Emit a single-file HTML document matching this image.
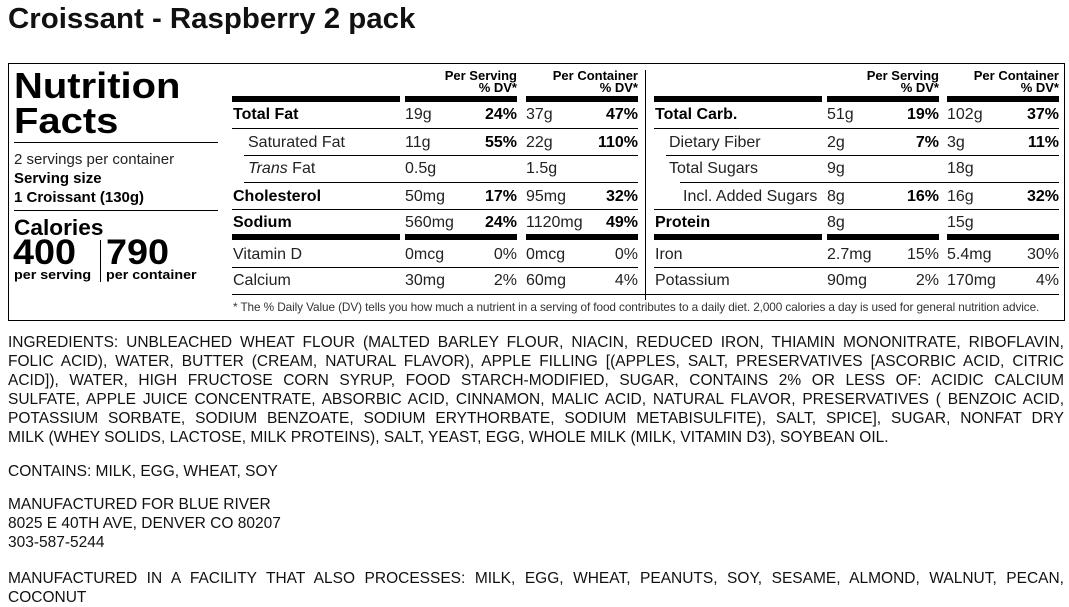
<!DOCTYPE html>
<html><head><meta charset="utf-8"><style>
*{margin:0;padding:0;box-sizing:border-box}
body{width:1069px;height:606px;background:#fff;position:relative;overflow:hidden;font-family:"Liberation Sans",Arial,sans-serif;color:#000}
.a{position:absolute;white-space:nowrap}
.t{font-size:16px;line-height:18px;color:#222;margin-top:1px}
.b{font-weight:bold;color:#000}
.r{text-align:right}
.bar{position:absolute;background:#000;height:6px}
.ln{position:absolute;background:#000;height:1px}
.hd{position:absolute;font-size:13px;line-height:12px;font-weight:bold;text-align:right}
.ing{position:absolute;left:8px;width:1056px;font-size:15.5px;line-height:19px;color:#111;white-space:nowrap}
.j{text-align:justify;text-align-last:justify}
.w{transform-origin:0 0}
</style></head><body>
<div class="a w" style="left:8px;top:2px;font-size:29px;font-weight:bold;color:#111;line-height:34px;transform:scaleX(1.015)">Croissant - Raspberry 2 pack</div>

<div style="position:absolute;left:8px;top:63px;width:1057px;height:258px;border:1.5px solid #000"></div>

<div class="a w" style="left:14px;top:68px;font-size:36px;line-height:36px;font-weight:900;transform:scaleX(1.11)">Nutrition</div>
<div class="a w" style="left:14px;top:103px;font-size:36px;line-height:36px;font-weight:900;transform:scaleX(1.11)">Facts</div>
<div class="ln" style="left:14px;top:142px;width:204px"></div>
<div class="a" style="left:14px;top:151px;font-size:15px;color:#222">2 servings per container</div>
<div class="a b" style="left:14px;top:170px;font-size:15px">Serving size</div>
<div class="a b" style="left:14px;top:189px;font-size:15px">1 Croissant (130g)</div>
<div class="ln" style="left:14px;top:210px;width:204px"></div>
<div class="a b w" style="left:14px;top:215px;font-size:22px;transform:scaleX(1.03)">Calories</div>
<div class="a b w" style="left:13px;top:235px;font-size:35px;line-height:36px;transform:scaleX(1.08)">400</div>
<div class="a b w" style="left:106px;top:235px;font-size:35px;line-height:36px;transform:scaleX(1.08)">790</div>
<div class="ln" style="left:100px;top:240px;width:1px;height:42px"></div>
<div class="a b w" style="left:14px;top:267px;font-size:13px;transform:scaleX(1.1)">per serving</div>
<div class="a b w" style="left:106px;top:267px;font-size:13px;transform:scaleX(1.1)">per container</div>

<div class="hd" style="left:405px;top:70px;width:112px">Per Serving<br>% DV*</div>
<div class="hd" style="left:526px;top:70px;width:112px">Per Container<br>% DV*</div>
<div class="hd" style="left:827px;top:70px;width:112px">Per Serving<br>% DV*</div>
<div class="hd" style="left:947px;top:70px;width:112px">Per Container<br>% DV*</div>
<div class="ln" style="left:645px;top:70px;width:1px;height:230px"></div>

<div class="bar" style="left:232px;top:96px;width:168px"></div>
<div class="bar" style="left:405px;top:96px;width:112px"></div>
<div class="bar" style="left:526px;top:96px;width:112px"></div>
<div class="bar" style="left:654px;top:96px;width:168px"></div>
<div class="bar" style="left:827px;top:96px;width:112px"></div>
<div class="bar" style="left:947px;top:96px;width:112px"></div>
<div class="bar" style="left:232px;top:234px;width:168px"></div>
<div class="bar" style="left:405px;top:234px;width:112px"></div>
<div class="bar" style="left:526px;top:234px;width:112px"></div>
<div class="bar" style="left:654px;top:234px;width:168px"></div>
<div class="bar" style="left:827px;top:234px;width:112px"></div>
<div class="bar" style="left:947px;top:234px;width:112px"></div>

<div class="ln" style="left:232px;top:128px;width:406px"></div>
<div class="ln" style="left:244px;top:155px;width:394px"></div>
<div class="ln" style="left:244px;top:182px;width:394px"></div>
<div class="ln" style="left:232px;top:209px;width:406px"></div>
<div class="ln" style="left:232px;top:267px;width:406px"></div>
<div class="ln" style="left:654px;top:128px;width:405px"></div>
<div class="ln" style="left:666px;top:155px;width:393px"></div>
<div class="ln" style="left:680px;top:182px;width:379px"></div>
<div class="ln" style="left:654px;top:209px;width:405px"></div>
<div class="ln" style="left:654px;top:267px;width:405px"></div>
<div class="ln" style="left:232px;top:294px;width:827px"></div>

<div class="a t b" style="left:233px;top:105px">Total Fat</div>
<div class="a t" style="left:405px;top:105px">19g</div><div class="a t b r" style="left:440px;top:105px;width:77px">24%</div>
<div class="a t" style="left:526px;top:105px">37g</div><div class="a t b r" style="left:560px;top:105px;width:78px">47%</div>

<div class="a t" style="left:248px;top:133px">Saturated Fat</div>
<div class="a t" style="left:405px;top:133px">11g</div><div class="a t b r" style="left:440px;top:133px;width:77px">55%</div>
<div class="a t" style="left:526px;top:133px">22g</div><div class="a t b r" style="left:560px;top:133px;width:78px">110%</div>

<div class="a t" style="left:248px;top:159px"><i>Trans</i> Fat</div>
<div class="a t" style="left:405px;top:159px">0.5g</div>
<div class="a t" style="left:526px;top:159px">1.5g</div>

<div class="a t b" style="left:233px;top:187px">Cholesterol</div>
<div class="a t" style="left:405px;top:187px">50mg</div><div class="a t b r" style="left:440px;top:187px;width:77px">17%</div>
<div class="a t" style="left:526px;top:187px">95mg</div><div class="a t b r" style="left:560px;top:187px;width:78px">32%</div>

<div class="a t b" style="left:233px;top:213px">Sodium</div>
<div class="a t" style="left:405px;top:213px">560mg</div><div class="a t b r" style="left:440px;top:213px;width:77px">24%</div>
<div class="a t" style="left:526px;top:213px">1120mg</div><div class="a t b r" style="left:560px;top:213px;width:78px">49%</div>

<div class="a t" style="left:233px;top:245px">Vitamin D</div>
<div class="a t" style="left:405px;top:245px">0mcg</div><div class="a t r" style="left:440px;top:245px;width:77px">0%</div>
<div class="a t" style="left:526px;top:245px">0mcg</div><div class="a t r" style="left:560px;top:245px;width:78px">0%</div>

<div class="a t" style="left:233px;top:271px">Calcium</div>
<div class="a t" style="left:405px;top:271px">30mg</div><div class="a t r" style="left:440px;top:271px;width:77px">2%</div>
<div class="a t" style="left:526px;top:271px">60mg</div><div class="a t r" style="left:560px;top:271px;width:78px">4%</div>

<div class="a t b" style="left:655px;top:105px">Total Carb.</div>
<div class="a t" style="left:827px;top:105px">51g</div><div class="a t b r" style="left:862px;top:105px;width:77px">19%</div>
<div class="a t" style="left:947px;top:105px">102g</div><div class="a t b r" style="left:981px;top:105px;width:78px">37%</div>

<div class="a t" style="left:669px;top:133px">Dietary Fiber</div>
<div class="a t" style="left:827px;top:133px">2g</div><div class="a t b r" style="left:862px;top:133px;width:77px">7%</div>
<div class="a t" style="left:947px;top:133px">3g</div><div class="a t b r" style="left:981px;top:133px;width:78px">11%</div>

<div class="a t" style="left:669px;top:159px">Total Sugars</div>
<div class="a t" style="left:827px;top:159px">9g</div>
<div class="a t" style="left:947px;top:159px">18g</div>

<div class="a t" style="left:683px;top:187px">Incl. Added Sugars</div>
<div class="a t" style="left:827px;top:187px">8g</div><div class="a t b r" style="left:862px;top:187px;width:77px">16%</div>
<div class="a t" style="left:947px;top:187px">16g</div><div class="a t b r" style="left:981px;top:187px;width:78px">32%</div>

<div class="a t b" style="left:655px;top:213px">Protein</div>
<div class="a t" style="left:827px;top:213px">8g</div>
<div class="a t" style="left:947px;top:213px">15g</div>

<div class="a t" style="left:655px;top:245px">Iron</div>
<div class="a t" style="left:827px;top:245px">2.7mg</div><div class="a t r" style="left:862px;top:245px;width:77px">15%</div>
<div class="a t" style="left:947px;top:245px">5.4mg</div><div class="a t r" style="left:981px;top:245px;width:78px">30%</div>

<div class="a t" style="left:655px;top:271px">Potassium</div>
<div class="a t" style="left:827px;top:271px">90mg</div><div class="a t r" style="left:862px;top:271px;width:77px">2%</div>
<div class="a t" style="left:947px;top:271px">170mg</div><div class="a t r" style="left:981px;top:271px;width:78px">4%</div>

<div class="a" style="left:233px;top:300px;font-size:11.8px;color:#333;letter-spacing:-0.1px">* The % Daily Value (DV) tells you how much a nutrient in a serving of food contributes to a daily diet. 2,000 calories a day is used for general nutrition advice.</div>

<div class="ing j" style="top:333px">INGREDIENTS: UNBLEACHED WHEAT FLOUR (MALTED BARLEY FLOUR, NIACIN, REDUCED IRON, THIAMIN MONONITRATE, RIBOFLAVIN,</div>
<div class="ing j" style="top:352px">FOLIC ACID), WATER, BUTTER (CREAM, NATURAL FLAVOR), APPLE FILLING [(APPLES, SALT, PRESERVATIVES [ASCORBIC ACID, CITRIC</div>
<div class="ing j" style="top:371px">ACID]), WATER, HIGH FRUCTOSE CORN SYRUP, FOOD STARCH-MODIFIED, SUGAR, CONTAINS 2% OR LESS OF: ACIDIC CALCIUM</div>
<div class="ing j" style="top:390px">SULFATE, APPLE JUICE CONCENTRATE, ABSORBIC ACID, CINNAMON, MALIC ACID, NATURAL FLAVOR, PRESERVATIVES ( BENZOIC ACID,</div>
<div class="ing j" style="top:409px">POTASSIUM SORBATE, SODIUM BENZOATE, SODIUM ERYTHORBATE, SODIUM METABISULFITE), SALT, SPICE], SUGAR, NONFAT DRY</div>
<div class="ing" style="top:428px">MILK (WHEY SOLIDS, LACTOSE, MILK PROTEINS), SALT, YEAST, EGG, WHOLE MILK (MILK, VITAMIN D3), SOYBEAN OIL.</div>
<div class="ing" style="top:462px">CONTAINS: MILK, EGG, WHEAT, SOY</div>
<div class="ing" style="top:495px">MANUFACTURED FOR BLUE RIVER</div>
<div class="ing" style="top:514px">8025 E 40TH AVE, DENVER CO 80207</div>
<div class="ing" style="top:533px">303-587-5244</div>
<div class="ing j" style="top:569px">MANUFACTURED IN A FACILITY THAT ALSO PROCESSES: MILK, EGG, WHEAT, PEANUTS, SOY, SESAME, ALMOND, WALNUT, PECAN,</div>
<div class="ing" style="top:588px">COCONUT</div>
</body></html>
